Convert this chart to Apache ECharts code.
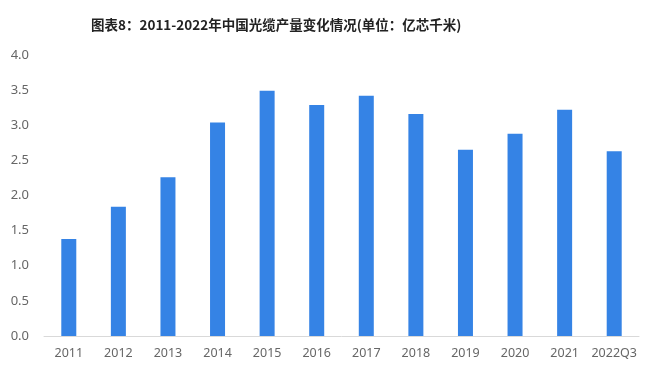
<!DOCTYPE html>
<html><head><meta charset="utf-8">
<script src="https://cdn.jsdelivr.net/npm/echarts@6/dist/echarts.min.js"></script>
<style>html,body{margin:0;padding:0;background:#fff}#c{width:660px;height:379px}</style>
</head><body><div id="c"></div>
<script>
const titleText = '图表8：2011-2022年中国光缆产量变化情况(单位：亿芯千米)';
const categories = ['2011','2012','2013','2014','2015','2016','2017','2018','2019','2020','2021','2022Q3'];
const values = [1.38,1.84,2.26,3.04,3.49,3.29,3.42,3.16,2.65,2.88,3.22,2.63];
const yTicks = {min:0, max:4, interval:0.5};

const chart = echarts.init(document.getElementById('c'));
chart.setOption({
  animation:false,
  backgroundColor:'#fff',
  title:{text:titleText,left:86,top:13,textStyle:{fontFamily:'Noto Sans CJK SC',fontSize:13.5,fontWeight:'bold',color:'#222'}},
  grid:{left:44,right:21,top:55,bottom:43},
  xAxis:{type:'category',data:categories,
    axisLine:{lineStyle:{color:'#d9d9d9'}},axisTick:{show:false},
    axisLabel:{interval:0,color:'#666',fontSize:12.5,margin:11,fontFamily:'Noto Sans'}},
  yAxis:{type:'value',min:yTicks.min,max:yTicks.max,interval:yTicks.interval,
    splitLine:{show:false},axisLine:{show:false},axisTick:{show:false},
    axisLabel:{color:'#666',fontSize:13,margin:15,fontFamily:'Noto Sans',formatter:v=>v.toFixed(1)}},
  series:[{type:'bar',data:values,barWidth:15,itemStyle:{color:'#3583e5'}}]
});
</script></body></html>
